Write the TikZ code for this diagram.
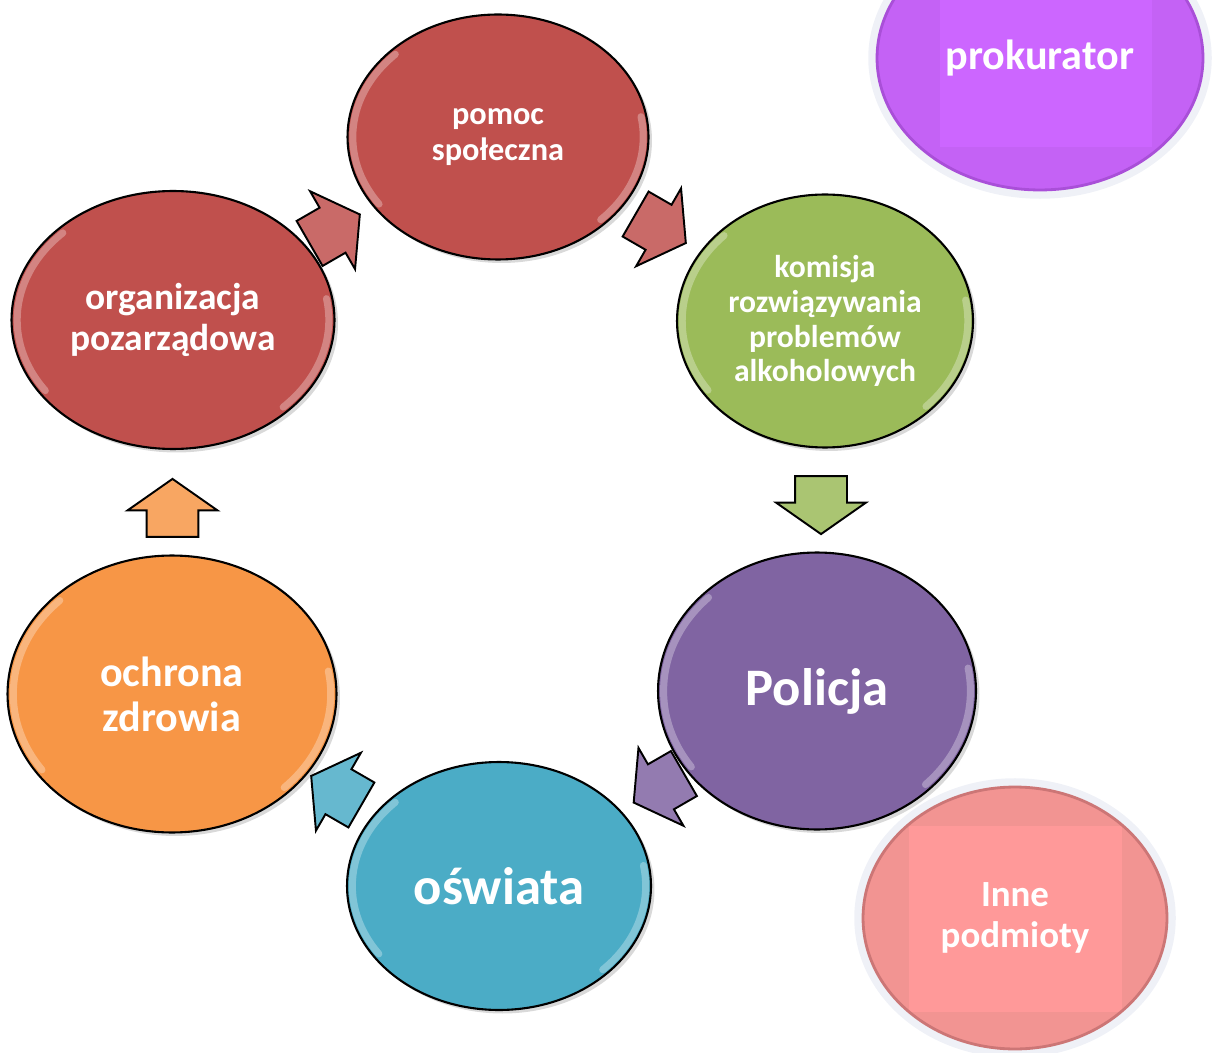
\documentclass[tikz,border=0pt]{standalone}
\usepackage{fontspec}
\setmainfont{Carlito}
\usetikzlibrary{shapes.geometric}
\usetikzlibrary{shapes.arrows}
\usetikzlibrary{calc}
\usetikzlibrary{shadows}

\definecolor{redstage}{HTML}{C0504D}
\definecolor{greenstage}{HTML}{9BBB59}
\definecolor{violetstage}{HTML}{8064A2}
\definecolor{bluestage}{HTML}{4BACC6}
\definecolor{orangestage}{HTML}{F79646}
\definecolor{prokfill}{HTML}{C462F5}
\definecolor{prokedge}{HTML}{A94FD8}
\definecolor{prokrect}{HTML}{CC66FF}
\definecolor{innefill}{HTML}{F29492}
\definecolor{inneedge}{HTML}{CC7676}
\definecolor{innerect}{HTML}{FF9999}
\definecolor{ringgrey}{HTML}{EFF1F7}

\begin{document}
\begin{tikzpicture}[x=0.02cm,y=-0.02cm,
        stage/.style={ellipse,draw=black,line width=1.2pt,text=white,align=center,
            drop shadow={shadow xshift=2pt,shadow yshift=-2pt,opacity=0.3},gloss},
        gloss/.style={path picture={
            \draw[white,opacity=0.3,line width=4pt,line cap=round]
                let \p1=(path picture bounding box.north east),\p2=(path picture bounding box.center),
                    \n1={0.965*(\x1-\x2)},\n2={0.955*(\y1-\y2)} in
                ([shift={(135:\n1 and \n2)}]\x2,\y2) arc[start angle=135,end angle=215,x radius=\n1,y radius=\n2]
                ([shift={(-45:\n1 and \n2)}]\x2,\y2) arc[start angle=-45,end angle=10,x radius=\n1,y radius=\n2];}},
        corner/.style={ellipse,preaction={draw=ringgrey,line width=10pt},line width=1.6pt,
            text=white,align=center},
        cyclearrow/.style={single arrow,draw=black,line width=1.1pt,inner xsep=0pt,inner ysep=0.5cm,
            minimum height=1.16cm,
            single arrow head extend=0.38cm,single arrow tip angle=110,
            rotate=#1,xshift=-0.2cm}]
        \useasboundingbox (0,0) rectangle (1212,1053);
        % cycle
        \node [stage,fill=redstage,minimum width=6.02cm,minimum height=4.9cm,
            font=\bfseries\fontsize{18.4}{20.4}\selectfont] (help) at (498,137) {pomoc\\społeczna};
        \node [stage,fill=greenstage,minimum width=5.92cm,minimum height=5.06cm,
            font=\bfseries\fontsize{18}{19.8}\selectfont] (komisja) at (825,321)
            {komisja\\rozwiązywania\\problemów\\alkoholowych};
        \node [stage,fill=violetstage,minimum width=6.36cm,minimum height=5.54cm,
            font=\bfseries\fontsize{30}{34}\selectfont] (policja) at (817,691) {Policja};
        \node [stage,fill=bluestage,minimum width=6.08cm,minimum height=4.96cm,
            font=\bfseries\fontsize{30}{34}\selectfont] (oswiata) at (499,886) {oświata};
        \node [stage,fill=orangestage,minimum width=6.58cm,minimum height=5.54cm,
            font=\bfseries\fontsize{24}{25.5}\selectfont] (zdrowie) at (172,694) {ochrona\\zdrowia};
        \node [stage,fill=redstage,minimum width=6.46cm,minimum height=5.16cm,
            font=\bfseries\fontsize{21.3}{23.6}\selectfont] (ngo) at (173,320) {organizacja\\pozarządowa};

        % arrows between stages
        \node [cyclearrow=30,fill=redstage!85!white] (a1) at ($(ngo)!0.5!(help)$) {};
        \node [cyclearrow=-30,fill=redstage!85!white] (a2) at ($(help)!0.5!(komisja)$) {};
        \node [cyclearrow=-90,fill=greenstage!85!white] (a3) at ($(komisja)!0.5!(policja)$) {};
        \node [cyclearrow=210,fill=violetstage!85!white] (a4) at ($(policja)!0.5!(oswiata)$) {};
        \node [cyclearrow=150,fill=bluestage!85!white] (a5) at ($(oswiata)!0.5!(zdrowie)$) {};
        \node [cyclearrow=90,fill=orangestage!85!white] (a6) at ($(zdrowie)!0.5!(ngo)$) {};

        % extra bodies
        \node [corner,fill=prokfill,draw=prokedge,minimum width=6.52cm,minimum height=5.28cm,
            path picture={\fill[prokrect] ([xshift=-2cm,yshift=-1.78cm]path picture bounding box.center)
                rectangle ([xshift=2.24cm,yshift=3cm]path picture bounding box.center);},
            font=\bfseries\fontsize{24}{28}\selectfont] (prok) at (1040,58) {prokurator};
        \node [corner,fill=innefill,draw=inneedge,minimum width=6.08cm,minimum height=5.24cm,
            path picture={\fill[innerect] ([xshift=-2.12cm,yshift=-1.88cm]path picture bounding box.center)
                rectangle ([xshift=2.14cm,yshift=1.84cm]path picture bounding box.center);},
            font=\bfseries\fontsize{21}{23.3}\selectfont] (inne) at (1015,918) {Inne\\podmioty};
\end{tikzpicture}
\end{document}
